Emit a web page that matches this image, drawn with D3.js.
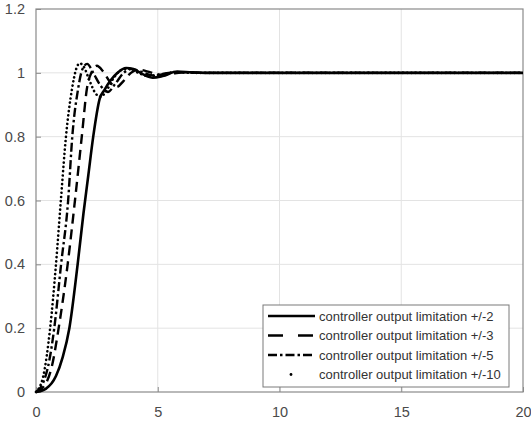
<!DOCTYPE html>
<html>
<head>
<meta charset="utf-8">
<script src="https://cdn.jsdelivr.net/npm/d3@7"></script>
<style>
  body { margin: 0; background: #fff; }
  text { font-family: "Liberation Sans", Arial, sans-serif; }
</style>
</head>
<body>
<div id="chart"></div>
<script>
// step responses (time in s, output)
const t2 = [0, 0.4, 0.82, 1.1, 1.37, 1.71, 1.95, 2.15, 2.35, 2.62, 2.8, 3.05, 3.35, 3.7, 4.0, 4.4, 4.8, 5.2, 5.8, 6.4, 7.0, 8, 20];
const y2 = [0, 0.01, 0.05, 0.11, 0.2, 0.4, 0.56, 0.68, 0.8, 0.92, 0.945, 0.975, 1.0, 1.015, 1.012, 0.995, 0.985, 0.99, 1.004, 1.001, 1.0, 1.0, 1.0];

const t3 = [0, 0.35, 0.65, 0.93, 1.3, 1.6, 1.88, 2.09, 2.3, 2.5, 2.75, 3.05, 3.3, 3.6, 3.9, 4.2, 4.6, 5.1, 5.6, 6.2, 7, 20];
const y3 = [0, 0.02, 0.08, 0.2, 0.4, 0.6, 0.8, 0.95, 1.005, 1.022, 1.005, 0.97, 0.955, 0.975, 1.0, 1.01, 1.004, 0.994, 0.998, 1.002, 1.0, 1.0];

const t5 = [0, 0.3, 0.55, 0.75, 1.03, 1.32, 1.49, 1.73, 1.9, 2.1, 2.35, 2.65, 2.95, 3.25, 3.6, 3.9, 4.3, 4.8, 5.3, 6, 7, 20];
const y5 = [0, 0.03, 0.1, 0.2, 0.4, 0.6, 0.8, 0.95, 1.01, 1.028, 1.0, 0.96, 0.94, 0.965, 1.0, 1.012, 1.004, 0.992, 0.998, 1.002, 1.0, 1.0];

const t10 = [0, 0.3, 0.58, 0.82, 1.02, 1.23, 1.48, 1.65, 1.8, 1.97, 2.2, 2.45, 2.65, 2.9, 3.2, 3.55, 3.85, 4.2, 4.6, 5.1, 5.7, 6.5, 20];
const y10 = [0, 0.05, 0.2, 0.4, 0.6, 0.8, 0.95, 1.012, 1.03, 1.018, 0.975, 0.935, 0.925, 0.945, 0.985, 1.01, 1.012, 1.0, 0.99, 0.994, 1.002, 1.0, 1.0];

const seriesNames = ["controller output limitation +/-2", "controller output limitation +/-3",
  "controller output limitation +/-5", "controller output limitation +/-10"];
const xTicks = [0, 5, 10, 15, 20];
const yTicks = [0, 0.2, 0.4, 0.6, 0.8, 1, 1.2];

const W = 531, H = 421;
const m = {left: 36, top: 9, right: 8, bottom: 29};

const svg = d3.select("#chart").append("svg").attr("width", W).attr("height", H);

const x = d3.scaleLinear().domain([0, 20]).range([m.left, W - m.right]);
const y = d3.scaleLinear().domain([0, 1.2]).range([H - m.bottom, m.top]);

// grid
svg.append("g").selectAll("line").data(xTicks.slice(1, -1)).enter().append("line")
  .attr("x1", d => x(d)).attr("x2", d => x(d)).attr("y1", y(0)).attr("y2", y(1.2))
  .attr("stroke", "#e3e3e3").attr("stroke-width", 1);
svg.append("g").selectAll("line").data(yTicks.slice(1, -1)).enter().append("line")
  .attr("x1", x(0)).attr("x2", x(20)).attr("y1", d => y(d)).attr("y2", d => y(d))
  .attr("stroke", "#e3e3e3").attr("stroke-width", 1);

// axes (ticks pointing inwards like matlab)
const xAxis = svg.append("g").attr("transform", `translate(0,${y(0)})`)
  .call(d3.axisBottom(x).tickValues(xTicks).tickSize(-5).tickPadding(13).tickFormat(d3.format("d")));
const yAxis = svg.append("g").attr("transform", `translate(${x(0)},0)`)
  .call(d3.axisLeft(y).tickValues(yTicks).tickSize(-5).tickPadding(11).tickFormat(d => d));
[xAxis, yAxis].forEach(a => {
  a.select(".domain").remove();
  a.selectAll("line").attr("stroke", "#8a8a8a");
  a.selectAll("text").attr("fill", "#4a4a4a").style("font-size", "14.5px");
});
xAxis.selectAll("text").attr("dy", "0.85em");

// box
svg.append("rect").attr("x", x(0)).attr("y", y(1.2)).attr("width", x(20) - x(0)).attr("height", y(0) - y(1.2))
  .attr("fill", "none").attr("stroke", "#8a8a8a").attr("stroke-width", 1.2);

const line = d3.line().x(d => x(d[0])).y(d => y(d[1])).curve(d3.curveMonotoneX);
const styles = [
  {dash: null, w: 2.6, cap: "butt"},
  {dash: "10,6", w: 2.4, cap: "butt"},
  {dash: "9,3,2.5,3", w: 2.4, cap: "butt"},
  {dash: "0.1,4.2", w: 2.6, cap: "round"}
];
const series = [d3.zip(t2, y2), d3.zip(t3, y3), d3.zip(t5, y5), d3.zip(t10, y10)];

const plot = svg.append("g");
series.forEach((s, i) => {
  plot.append("path").datum(s).attr("d", line)
    .attr("fill", "none").attr("stroke", "#000")
    .attr("stroke-width", styles[i].w)
    .attr("stroke-linecap", styles[i].cap)
    .attr("stroke-dasharray", styles[i].dash);
});

// legend
const lg = svg.append("g").attr("transform", "translate(263,305)");
lg.append("rect").attr("width", 246).attr("height", 82)
  .attr("fill", "#fff").attr("stroke", "#7a7a7a").attr("stroke-width", 1);
seriesNames.forEach((n, i) => {
  const yy = 11 + i * 19.5;
  if (i < 3) {
    lg.append("line").attr("x1", 5).attr("x2", 52).attr("y1", yy).attr("y2", yy)
      .attr("stroke", "#000").attr("stroke-width", styles[i].w)
      .attr("stroke-dasharray", i == 1 ? "15,15" : i == 2 ? "9,3,2.5,3" : null);
  } else {
    lg.append("circle").attr("cx", 28).attr("cy", yy).attr("r", 1.4).attr("fill", "#000");
  }
  lg.append("text").attr("x", 56).attr("y", yy).attr("dy", "0.35em")
    .attr("fill", "#333").style("font-size", "13px").text(n);
});
</script>
</body>
</html>
